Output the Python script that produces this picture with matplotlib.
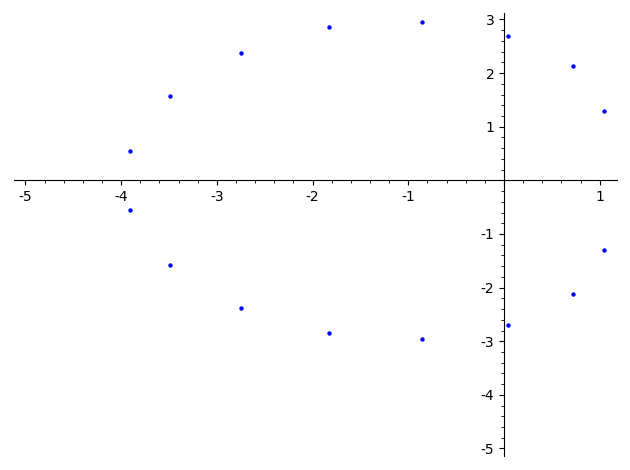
import matplotlib
matplotlib.use("Agg")
import matplotlib.pyplot as plt
from matplotlib.ticker import MultipleLocator, FuncFormatter

plt.rcParams['axes.unicode_minus'] = False
plt.rcParams['font.family'] = 'DejaVu Sans'

# root locations (upper half); lower half is the conjugate
re_vals = [-3.911, -3.486, -2.748, -1.829, -0.853, 0.042, 0.721, 1.049]
im_vals = [0.552, 1.578, 2.381, 2.854, 2.953, 2.698, 2.127, 1.299]

xs = re_vals + re_vals
ys = im_vals + [-v for v in im_vals]

fig = plt.figure(figsize=(6.3, 4.7), dpi=100)
ax = fig.add_axes([14/630, 1-456/470, 603/630, 443/470])
ax.scatter(xs, ys, s=10, color='blue', zorder=3, linewidths=0)

ax.set_xlim(-5.12, 1.18)
ax.set_ylim(-5.14, 3.12)

for side in ['top', 'right']:
    ax.spines[side].set_visible(False)
ax.spines['left'].set_position(('data', 0))
ax.spines['bottom'].set_position(('data', 0))

ax.xaxis.set_major_locator(MultipleLocator(1))
ax.xaxis.set_minor_locator(MultipleLocator(0.2))
ax.yaxis.set_major_locator(MultipleLocator(1))
ax.yaxis.set_minor_locator(MultipleLocator(0.2))

fmt = FuncFormatter(lambda v, p: '' if abs(v) < 1e-9 else '%d' % round(v))
ax.xaxis.set_major_formatter(fmt)
ax.yaxis.set_major_formatter(fmt)
ax.tick_params(labelsize=10)

fig.savefig('out.png', dpi=100)
